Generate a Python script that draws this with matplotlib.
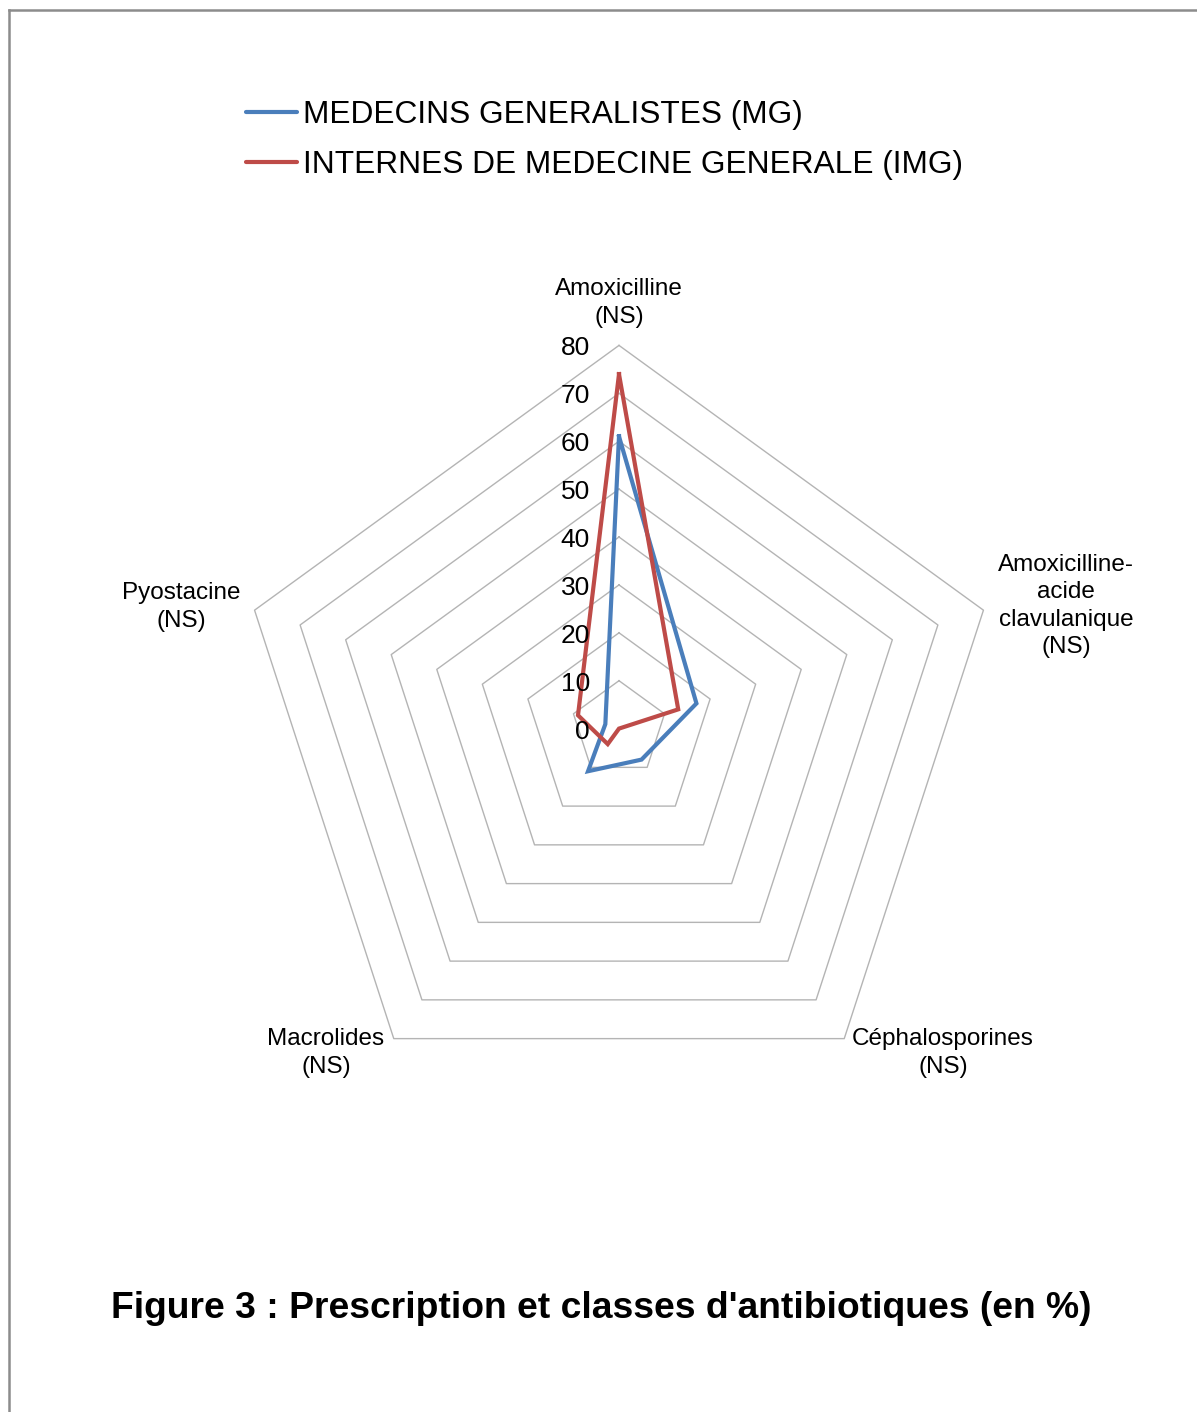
import numpy as np
import matplotlib
matplotlib.use("Agg")
import matplotlib.pyplot as plt
from matplotlib.lines import Line2D

plt.rcParams['font.family'] = ['Liberation Sans', 'DejaVu Sans']

# Data (percent of prescriptions by antibiotic class)
categories = ["Amoxicilline\n(NS)",
              "Amoxicilline-\nacide\nclavulanique\n(NS)",
              "Céphalosporines\n(NS)",
              "Macrolides\n(NS)",
              "Pyostacine\n(NS)"]
series_names = ["MEDECINS GENERALISTES (MG)",
                "INTERNES DE MEDECINE GENERALE (IMG)"]
mg_values = [61, 17, 8, 11, 3]
img_values = [74, 13, 0, 4, 9]
ticks = [0, 10, 20, 30, 40, 50, 60, 70, 80]
title = "Figure 3 : Prescription et classes d'antibiotiques (en %)"

W, H = 1197, 1412
DPI = 100
fig = plt.figure(figsize=(W / DPI, H / DPI), dpi=DPI)
fig.patch.set_facecolor("white")


def fx(px):
    return px / W


def fy(py):
    return 1 - py / H


# Frame lines along top and left edge
fig.add_artist(Line2D([fx(9), fx(W)], [fy(10), fy(10)], color="#8c8c8c", lw=1.8))
fig.add_artist(Line2D([fx(9), fx(9)], [fy(10), fy(H)], color="#8c8c8c", lw=1.8))

# Radar axes: one data unit = 4.79 px, centre at (619, 728.6)
cx, cy, scale = 619.0, 728.6, 4.79
ax = fig.add_axes([0, 0, 1, 1])
ax.set_xlim(-cx / scale, (W - cx) / scale)
ax.set_ylim(-(H - cy) / scale, cy / scale)
ax.axis("off")

n = len(categories)
angles = np.pi / 2 - 2 * np.pi * np.arange(n) / n


def to_xy(values):
    v = np.asarray(values, dtype=float)
    x = v * np.cos(angles)
    y = v * np.sin(angles)
    return np.append(x, x[0]), np.append(y, y[0])


# Pentagon grid
for t in ticks[1:]:
    gx, gy = to_xy([t] * n)
    ax.plot(gx, gy, color="#b4b4b4", lw=1.0, zorder=1)

# Radial value labels
for t in ticks:
    ax.text(-29.0 / scale, t - 3.0 / scale, str(t), ha="right", va="center",
            fontsize=19, color="black", zorder=5)

# Series
for vals, color in ((mg_values, "#4a7ebb"), (img_values, "#be4b48")):
    sx, sy = to_xy(vals)
    ax.plot(sx, sy, color=color, lw=3.0, solid_joinstyle="miter", zorder=3)

# Category labels
label_pos = [(619, 303), (1066, 606), (943, 1053), (326, 1053), (181, 607)]
for lab, (px, py) in zip(categories, label_pos):
    fig.text(fx(px), fy(py), lab, ha="center", va="center",
             fontsize=17.5, linespacing=1.3, color="black")

# Legend
legend_rows = [(112, "#4a7ebb", series_names[0]), (162, "#be4b48", series_names[1])]
for py, color, name in legend_rows:
    fig.add_artist(Line2D([fx(246), fx(297)], [fy(py), fy(py)], color=color,
                          lw=3.0, solid_capstyle="round"))
    fig.text(fx(303), fy(py + 3), name, ha="left", va="center",
             fontsize=22.8, color="black")

# Title
fig.text(fx(601), fy(1308), title, ha="center", va="center",
         fontsize=26.8, fontweight="bold", color="black")

fig.savefig("out.png", dpi=DPI, facecolor="white")
